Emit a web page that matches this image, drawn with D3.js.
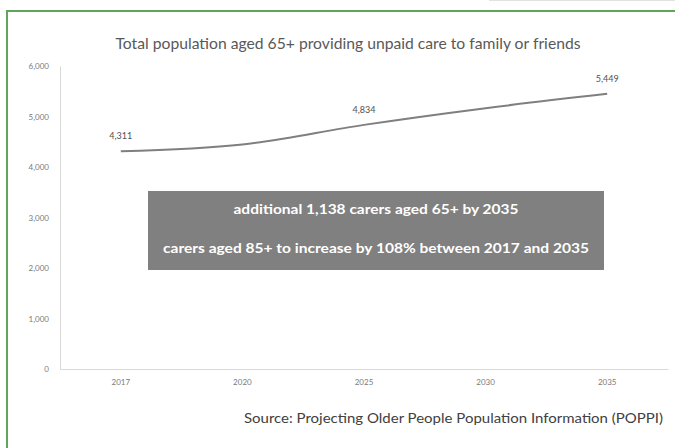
<!DOCTYPE html>
<html>
<head>
<meta charset="utf-8">
<script src="https://cdn.jsdelivr.net/npm/d3@7"></script>
<style>
  html, body { margin: 0; padding: 0; background: #ffffff; }
  svg { display: block; }
  text { font-family: Lato, "Open Sans", sans-serif; }
</style>
</head>
<body>
<svg id="chart" width="675" height="448"></svg>
<script>
// Carers aged 65+ (projection)
const years = ["2017", "2020", "2025", "2030", "2035"];
const carers = [4311, 4445, 4834, 5165, 5449];
const labelledYears = ["2017", "2025", "2035"];
const yTicks = [0, 1000, 2000, 3000, 4000, 5000, 6000];

const titleText = "Total population aged 65+ providing unpaid care to family or friends";
const noteLines = [
  "additional 1,138 carers aged 65+ by 2035",
  "carers aged 85+ to increase by 108% between 2017 and 2035"
];
const sourceText = "Source: Projecting Older People Population Information (POPPI)";

const svg = d3.select("#chart");
const W = 675, H = 448;
const plot = { left: 60, right: 668, top: 66, bottom: 369 };

// faint frame at the very top right
svg.append("line")
  .attr("x1", 489).attr("x2", W).attr("y1", 0.5).attr("y2", 0.5)
  .attr("stroke", "#e2e2e2").attr("stroke-width", 1);

// green outer frame
svg.append("path")
  .attr("d", `M7,${H + 2} V11 H${W + 2}`)
  .attr("fill", "none").attr("stroke", "#5fa55a").attr("stroke-width", 2);

// title
svg.append("text")
  .attr("x", 348).attr("y", 49)
  .attr("text-anchor", "middle")
  .attr("font-size", 15).attr("fill", "#595959")
  .attr("textLength", 465).attr("lengthAdjust", "spacingAndGlyphs")
  .text(titleText);

const x = d3.scaleBand().domain(years).range([plot.left, plot.right]);
const y = d3.scaleLinear().domain([0, 6000]).range([plot.bottom, plot.top]);
const cx = d => x(d) + x.bandwidth() / 2;

// y axis
const yAxis = svg.append("g")
  .attr("transform", `translate(${plot.left},0)`)
  .call(d3.axisLeft(y).tickValues(yTicks).tickFormat(d3.format(",")).tickSize(0).tickPadding(11));
yAxis.select(".domain").attr("stroke", "#d9d9d9");
yAxis.selectAll("text").attr("font-size", 8).attr("fill", "#7a7a7a")
  .attr("font-family", "Lato, sans-serif");

// x axis
const xAxis = svg.append("g")
  .attr("transform", `translate(0,${plot.bottom})`)
  .call(d3.axisBottom(x).tickSize(0).tickPadding(10));
xAxis.select(".domain").attr("stroke", "#d9d9d9");
xAxis.selectAll("text").attr("font-size", 8).attr("fill", "#7a7a7a")
  .attr("font-family", "Lato, sans-serif");

// series line (smoothed)
const line = d3.line()
  .x((d, i) => cx(years[i]))
  .y(d => y(d))
  .curve(d3.curveCatmullRom.alpha(0.5));
svg.append("path")
  .datum(carers)
  .attr("d", line)
  .attr("fill", "none")
  .attr("stroke", "#7f7f7f")
  .attr("stroke-width", 2);

// data labels
svg.selectAll("text.value")
  .data(years.map((yr, i) => ({ yr, v: carers[i] })).filter(d => labelledYears.includes(d.yr)))
  .join("text")
  .attr("class", "value")
  .attr("x", d => cx(d.yr))
  .attr("y", d => y(d.v) - 12)
  .attr("text-anchor", "middle")
  .attr("font-size", 9).attr("fill", "#505050")
  .text(d => d3.format(",")(d.v));

// callout box
svg.append("rect")
  .attr("x", 148).attr("y", 191).attr("width", 456).attr("height", 79)
  .attr("fill", "#808080");
const noteY = [214, 253];
const noteW = [285, 426];
noteLines.forEach((t, i) => {
  svg.append("text")
    .attr("x", 376).attr("y", noteY[i])
    .attr("text-anchor", "middle")
    .attr("font-size", 13).attr("font-weight", "bold").attr("fill", "#ffffff")
    .attr("textLength", noteW[i]).attr("lengthAdjust", "spacingAndGlyphs")
    .text(t);
});

// source note
svg.append("text")
  .attr("x", 663).attr("y", 423)
  .attr("text-anchor", "end")
  .attr("font-size", 13).attr("fill", "#404040")
  .attr("textLength", 419).attr("lengthAdjust", "spacingAndGlyphs")
  .text(sourceText);
</script>
</body>
</html>
